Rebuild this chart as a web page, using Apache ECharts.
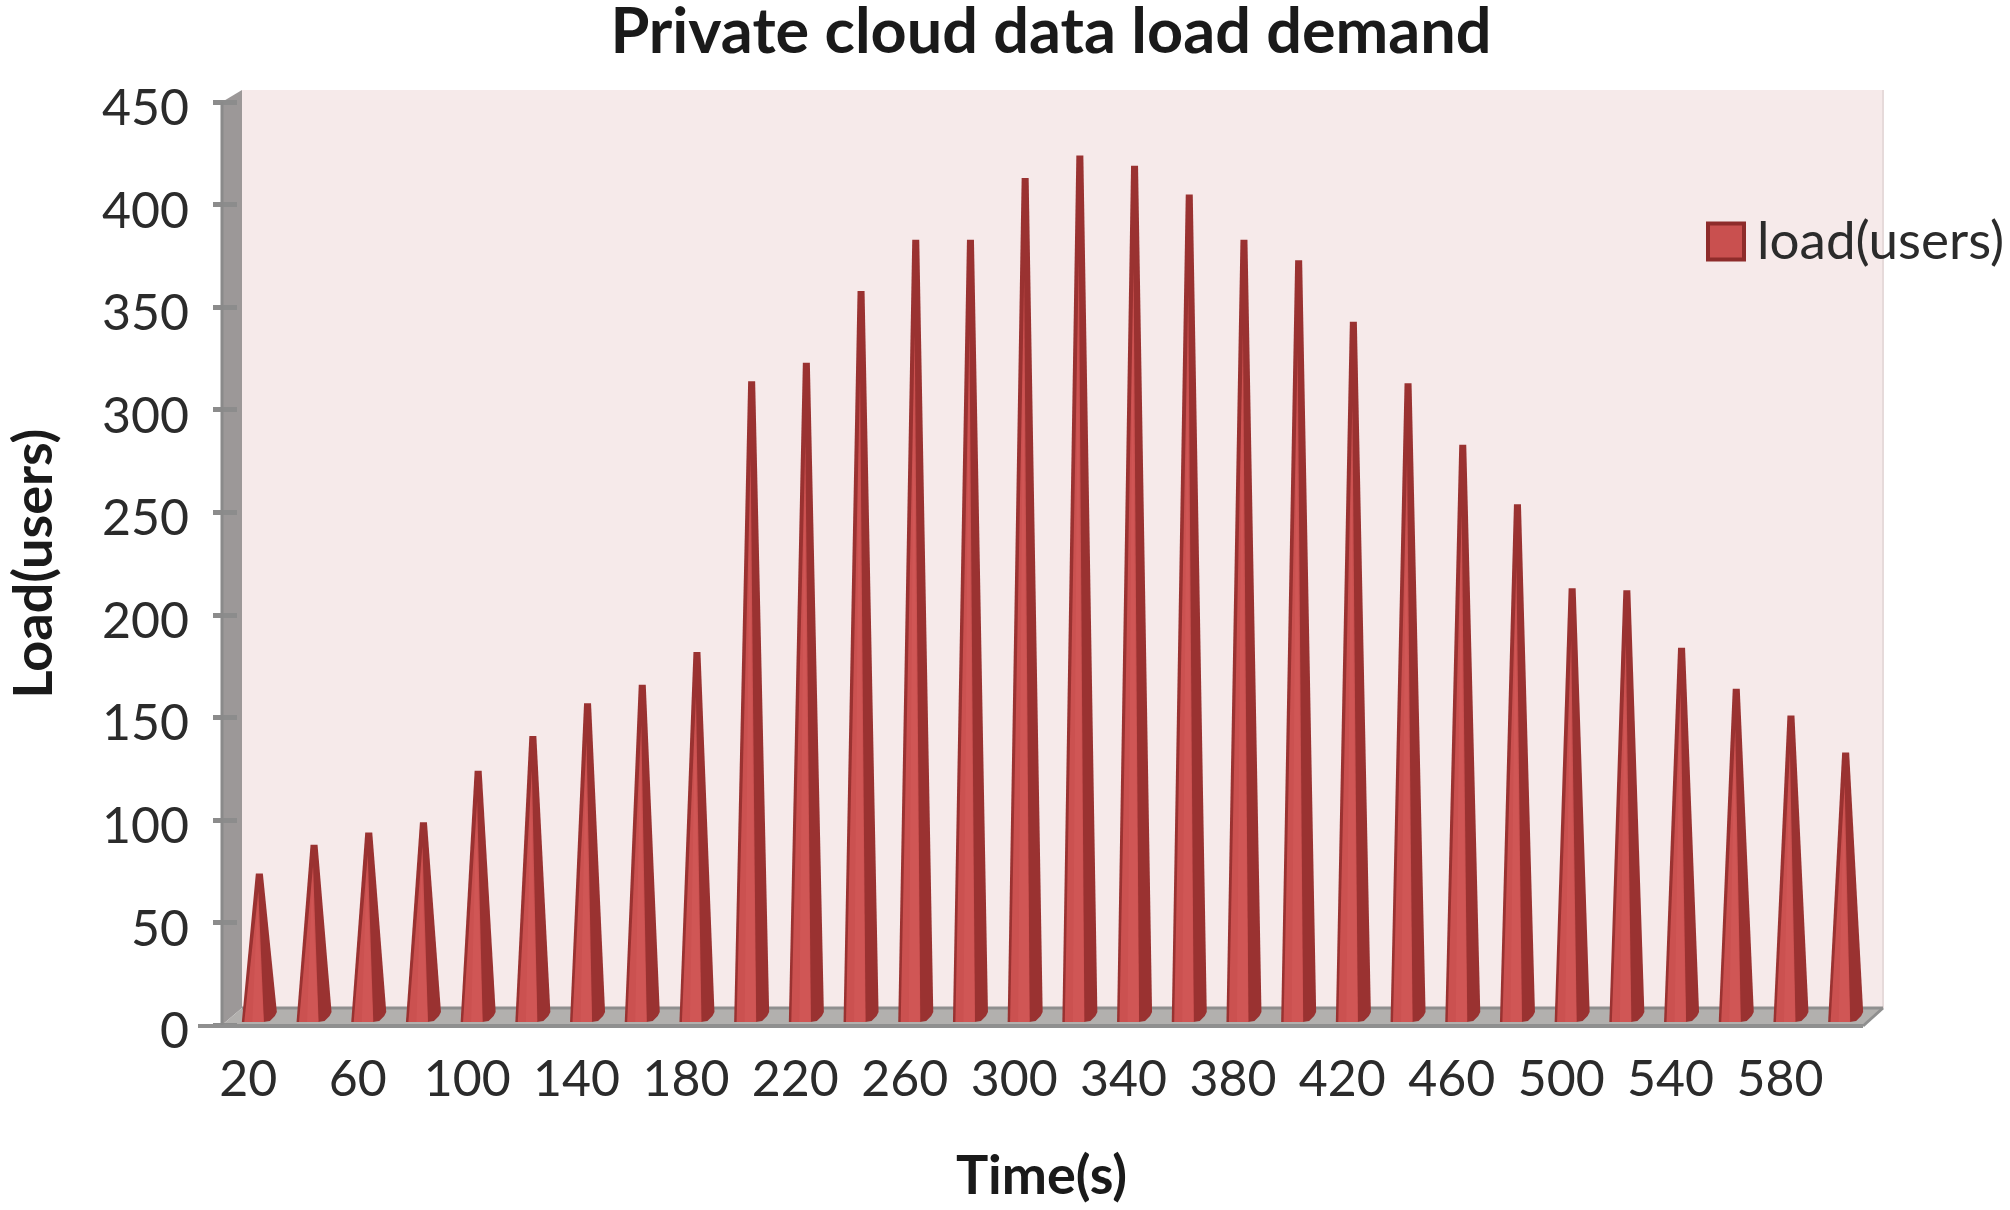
<!DOCTYPE html>
<html><head><meta charset="utf-8">
<style>html,body{margin:0;padding:0;background:#fff}#c{width:2010px;height:1210px}</style>
<script src="https://cdn.jsdelivr.net/npm/echarts@6/dist/echarts.min.js"></script>
</head><body><div id="c"></div>
<script>
const times = [20,40,60,80,100,120,140,160,180,200,220,240,260,280,300,320,340,360,380,400,420,440,460,480,500,520,540,560,580,600];
const loads = [70,84,90,95,120,137,153,162,178,310,319,354,379,379,409,420,415,401,379,369,339,309,279,250,209,208,180,160,147,129];
const yTicks = {min:0,max:450,interval:50};
const seriesName = 'load(users)';
const font = 'Lato, Carlito, "Open Sans", sans-serif';
const textColor = '#2b2b2b';
const F = {l:222,r:1863,t:102,b:1025};      // front plane
const B = {l:242,r:1883,t:90,b:1008};       // back plane
const chart = echarts.init(document.getElementById('c'));
function poly(points,fill,z){return {type:'polygon',z:z,silent:true,shape:{points},style:{fill}};}
function cone(params,api){
  const top = api.coord([api.value(0),api.value(1)]);
  const base = api.coord([api.value(0),0]);
  const w = api.size([1,0])[0]*0.64, x=base[0], y=base[1], ty=top[1];
  const L=x-w/2,R=x+w/2,by=y+4,h=by-ty;
  return {type:'group',children:[
    {type:'polygon',shape:{points:[[x-3.5,ty],[x+3.5,ty],[R,by-9],[R-2,by-5],[L+w*0.8,by],[L+w*0.62,by+1],[L,by+1]]},style:{fill:'#9A3231'}},
    {type:'polygon',shape:{points:[[x-1,ty+h*0.12],[L+w*0.63,by+1],[L+w*0.07,by+1]]},style:{fill:'#CB5150'}},
    {type:'polygon',shape:{points:[[x-2,ty+h*0.2],[L+w*0.62,by+1],[L+w*0.3,by+1]]},style:{fill:'#D05655'}}
  ]};
}
chart.setOption({
  animation:false,
  backgroundColor:'#fff',
  title:{text:'Private cloud data load demand',left:1046,top:-4,textAlign:'center',
    textStyle:{fontFamily:font,fontSize:63,fontWeight:'bold',color:'#1a1a1a'}},
  legend:{data:[{name:seriesName,icon:'rect',itemStyle:{color:'#C9504F',borderColor:'#8E2C2B',borderWidth:4}}],
    left:1701,top:210,itemWidth:36,itemHeight:36,itemGap:24,
    textStyle:{fontFamily:font,fontSize:53,color:textColor,padding:[0,0,0,8]}},
  grid:[
    {left:F.l,top:F.t,width:F.r-F.l,height:F.b-F.t},
    {left:F.l+10,top:F.t-8,width:F.r-F.l,height:F.b-F.t},
    {left:F.l-1,top:F.t,width:F.r-F.l,height:F.b-F.t}
  ],
  xAxis:[
    {type:'category',gridIndex:2,data:times,boundaryGap:true,name:'Time(s)',nameLocation:'middle',nameGap:125,
     nameTextStyle:{fontFamily:font,fontSize:54,fontWeight:'bold',color:'#1a1a1a'},
     axisLine:{show:false},axisTick:{show:false},
     axisLabel:{interval:1,fontFamily:font,fontSize:50,color:textColor,margin:30,showMinLabel:true}},
    {type:'category',gridIndex:1,data:times,show:false},
    {type:'category',gridIndex:0,data:times,show:false}
  ],
  yAxis:[
    {type:'value',gridIndex:0,min:yTicks.min,max:yTicks.max,interval:yTicks.interval,
     name:'Load(users)',nameLocation:'middle',nameGap:175,
     nameTextStyle:{fontFamily:font,fontSize:54,fontWeight:'bold',color:'#1a1a1a'},
     axisLine:{show:false},splitLine:{show:false},
     axisTick:{show:true,length:24,lineStyle:{color:'#8C8C8C',width:5}},
     axisLabel:{fontFamily:font,fontSize:50,color:textColor,margin:48,verticalAlign:'top',lineHeight:14}},
    {type:'value',gridIndex:1,min:yTicks.min,max:yTicks.max,interval:yTicks.interval,show:false},
    {type:'value',gridIndex:2,min:yTicks.min,max:yTicks.max,interval:yTicks.interval,show:false}
  ],
  series:[{name:seriesName,type:'custom',xAxisIndex:1,yAxisIndex:1,z:5,clip:false,
    itemStyle:{color:'#C9504F'},
    encode:{x:0,y:1},data:times.map((t,i)=>[i,loads[i]]),renderItem:cone}],
  graphic:{elements:[
    poly([[B.l,B.t],[B.r,B.t],[B.r,B.b],[B.l,B.b]],'#F6EAEA',0),
    {type:'line',z:0,silent:true,shape:{x1:B.r,y1:B.t,x2:B.r,y2:B.b},style:{stroke:'#E6DADA',lineWidth:2}},
    poly([[F.l,F.t],[B.l,B.t],[B.l,B.b],[F.l,F.b]],'#9C9898',0),
    poly([[F.l,F.b],[B.l,B.b],[B.r,B.b],[F.r,F.b]],'#B2B0AE',0),
    {type:'line',z:1,silent:true,shape:{x1:B.l,y1:B.b,x2:B.r,y2:B.b},style:{stroke:'#8F8F8F',lineWidth:3}},
    {type:'line',z:1,silent:true,shape:{x1:F.l-24,y1:F.b+1,x2:F.r,y2:F.b+1},style:{stroke:'#8F8F8F',lineWidth:4}},
    {type:'line',z:1,silent:true,shape:{x1:F.r,y1:F.b+1,x2:B.r,y2:B.b},style:{stroke:'#8F8F8F',lineWidth:3}},
    {type:'line',z:1,silent:true,shape:{x1:F.l,y1:F.t,x2:F.l,y2:F.b},style:{stroke:'#8A8A8A',lineWidth:3}}
  ]}
});
</script></body></html>
